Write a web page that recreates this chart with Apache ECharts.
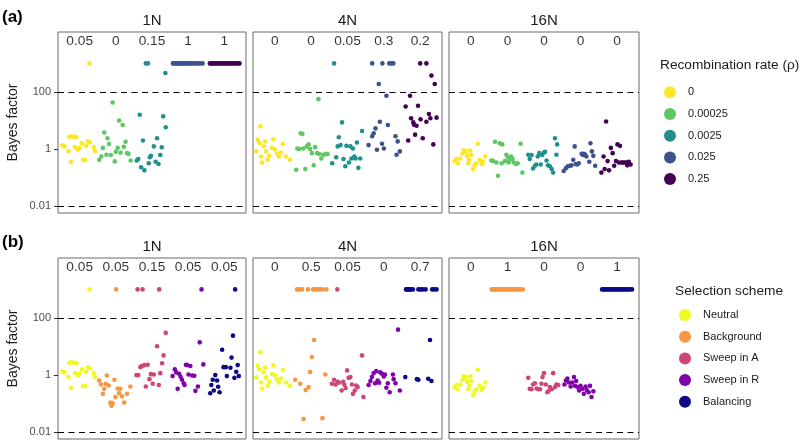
<!DOCTYPE html>
<html>
<head>
<meta charset="utf-8">
<script src="https://cdn.jsdelivr.net/npm/echarts@6/dist/echarts.min.js"></script>
<style>
html, body { margin: 0; background: #fff; }
#chart { width: 800px; height: 444px; }
</style>
</head>
<body>
<div id="chart"></div>
<script>
// facets and groups
const panelNames = ['1N', '4N', '16N'];
const rhoNames = ['0', '0.00025', '0.0025', '0.025', '0.25'];
const rhoColors = ['#FDE725', '#5DC863', '#21908C', '#3B528B', '#440154'];
const schemeNames = ['Neutral', 'Background', 'Sweep in A', 'Sweep in R', 'Balancing'];
const schemeColors = ['#F0F921', '#F89540', '#CC4778', '#7E03A8', '#0D0887'];

// proportion of replicates with BF > 100, printed on top of each group
const propA = [['0.05', '0', '0.15', '1', '1'], ['0', '0', '0.05', '0.3', '0.2'], ['0', '0', '0', '0', '0']];
const propB = [['0.05', '0.05', '0.15', '0.05', '0.05'], ['0', '0.5', '0.05', '0', '0.7'], ['0', '1', '0', '0', '1']];

// y-axis ticks
const yTicks = [0.01, 1, 100];
const thresholds = [0.01, 100];

// capped (infinite) Bayes factor
const C = 1000;

// points: [jitter offset within group, Bayes factor]
const neutral_1N = [[-0.48,1.35],[-0.42,1.24],[-0.31,0.85],[-0.24,0.35],[-0.29,2.7],[-0.22,2.8],[-0.15,2.7],[-0.09,2.6],[-0.13,1.17],[-0.05,0.97],[0.0,1.1],[0.06,1.6],[0.09,0.42],[0.15,0.41],[0.18,1.3],[0.23,1.86],[0.28,1.7],[0.39,1.17],[0.42,0.85],[0.27,C]];
const rho00025_1N = [[-0.46,0.42],[-0.4,0.55],[-0.36,1.1],[-0.32,3.8],[-0.26,0.63],[-0.23,2.4],[-0.19,1.5],[-0.14,0.62],[-0.09,43],[-0.03,0.37],[0.0,0.8],[0.05,1.1],[0.09,10],[0.13,0.75],[0.19,7],[0.22,1.2],[0.27,1.8],[0.31,0.72],[0.35,0.68],[0.41,0.4]];
const rho0025_1N = [[-0.17,C],[-0.11,C],[0.37,460],[-0.42,0.4],[-0.38,0.45],[-0.34,16],[-0.3,0.23],[-0.25,2],[-0.21,0.18],[-0.09,0.32],[-0.06,0.52],[-0.03,0.58],[0.05,1.24],[0.1,0.36],[0.14,2.4],[0.18,0.3],[0.23,0.62],[0.27,1.15],[0.31,14],[0.38,5.8]];
const rho025_1N = [[-0.42,C],[-0.39,C],[-0.35,C],[-0.31,C],[-0.27,C],[-0.23,C],[-0.2,C],[-0.16,C],[-0.12,C],[-0.08,C],[-0.04,C],[0.0,C],[0.04,C],[0.08,C],[0.12,C],[0.17,C],[0.22,C],[0.27,C],[0.33,C],[0.4,C]];
const rho25_1N = [[-0.4,C],[-0.36,C],[-0.33,C],[-0.29,C],[-0.25,C],[-0.2,C],[-0.16,C],[-0.11,C],[-0.07,C],[-0.03,C],[0.02,C],[0.06,C],[0.1,C],[0.14,C],[0.19,C],[0.23,C],[0.28,C],[0.32,C],[0.37,C],[0.42,C]];

const neutral_4N = [[-0.51,0.83],[-0.47,2.1],[-0.42,1.6],[-0.4,6.3],[-0.38,0.55],[-0.35,0.34],[-0.31,1.25],[-0.27,1.85],[-0.24,0.83],[-0.2,0.42],[-0.15,0.58],[-0.08,1.1],[-0.04,2.2],[0.0,0.98],[0.06,0.7],[0.11,0.55],[0.17,0.76],[0.22,1.5],[0.31,0.55],[0.42,0.42]];
const rho00025_4N = [[-0.41,0.19],[-0.38,1.05],[-0.33,1.0],[-0.29,3.6],[-0.24,3.4],[-0.22,1.05],[-0.16,0.2],[-0.12,1.24],[-0.07,1.46],[-0.03,1.0],[0.02,0.72],[0.07,0.27],[0.11,1.17],[0.16,0.72],[0.2,56],[0.23,0.67],[0.28,0.47],[0.34,0.63],[0.41,0.67],[0.45,0.67]];
const rho0025_4N = [[-0.37,C],[-0.42,0.32],[-0.31,0.52],[-0.27,1.24],[-0.24,2.6],[-0.19,1.38],[-0.15,8.6],[-0.11,0.45],[-0.06,0.25],[-0.03,1.3],[0.04,0.34],[0.08,1.24],[0.11,0.47],[0.15,1.05],[0.19,0.55],[0.22,0.47],[0.26,1.7],[0.3,0.22],[0.35,0.47],[0.4,4.3]];
const rho025_4N = [[-0.32,C],[-0.04,C],[0.15,C],[0.21,C],[0.26,C],[-0.14,190],[-0.42,1.38],[-0.32,2.8],[-0.28,3.6],[-0.23,5.3],[-0.19,0.95],[-0.11,9.1],[-0.05,1.54],[0.0,1.05],[0.07,74],[0.11,7],[0.32,2.8],[0.35,0.63],[0.38,1.86],[0.44,0.83]];
const rho25_4N = [[0.0,C],[0.17,C],[0.31,375],[0.4,190],[-0.4,31],[-0.33,2.0],[-0.28,74],[-0.25,12],[-0.19,8.6],[-0.17,7.1],[-0.14,3.2],[-0.1,6.6],[-0.06,33],[0.01,11],[0.07,2.4],[0.17,9.1],[0.24,17],[0.28,12],[0.36,1.46],[0.45,12.6]];

const neutral_16N = [[-0.45,0.38],[-0.4,0.45],[-0.36,0.32],[-0.29,0.47],[-0.23,0.69],[-0.2,0.9],[-0.14,0.83],[-0.11,0.58],[-0.07,0.32],[-0.05,0.42],[-0.02,0.9],[0.01,0.63],[0.06,0.2],[0.1,0.27],[0.15,0.32],[0.19,1.54],[0.24,0.42],[0.29,0.3],[0.33,0.36],[0.39,0.55]];
const rho00025_16N = [[-0.44,0.4],[-0.39,0.38],[-0.34,1.8],[-0.3,0.34],[-0.26,0.116],[-0.21,1.6],[-0.16,0.32],[-0.14,1.46],[-0.07,0.38],[-0.03,0.63],[0.01,0.52],[0.03,0.34],[0.06,0.42],[0.1,0.55],[0.14,0.45],[0.17,0.34],[0.23,0.3],[0.28,0.32],[0.36,1.54],[0.41,0.15]];
const rho0025_16N = [[-0.43,0.63],[-0.39,0.45],[-0.34,0.62],[-0.3,0.21],[-0.25,0.26],[-0.21,0.29],[-0.17,0.55],[-0.13,0.72],[-0.09,0.29],[-0.05,0.62],[0.0,0.76],[0.03,0.8],[0.07,0.4],[0.11,0.27],[0.16,0.25],[0.21,0.2],[0.25,0.15],[0.3,2.4],[0.34,0.63],[0.36,1.46]];
const rho025_16N = [[-0.46,0.17],[-0.4,0.215],[-0.35,0.25],[-0.29,0.26],[-0.25,0.27],[-0.2,0.42],[-0.16,1.24],[-0.13,0.3],[-0.09,0.29],[-0.05,0.32],[0.03,0.69],[0.07,0.62],[0.09,0.69],[0.12,0.65],[0.16,0.55],[0.24,0.36],[0.27,1.6],[0.31,0.83],[0.35,0.58],[0.4,0.26]];
const rho25_16N = [[-0.43,0.15],[-0.37,0.55],[-0.34,0.2],[-0.3,9.3],[-0.26,0.38],[-0.22,0.18],[-0.17,1.1],[-0.12,0.72],[-0.08,0.26],[-0.03,0.38],[0.01,1.46],[0.05,0.34],[0.08,1.3],[0.12,0.34],[0.16,0.34],[0.2,0.34],[0.25,0.34],[0.28,0.27],[0.32,0.36],[0.37,0.29]];

const bg_1N = [[0.01,C],[-0.46,0.65],[-0.41,0.47],[-0.36,0.22],[-0.32,0.33],[-0.28,0.5],[-0.25,0.97],[-0.2,0.43],[-0.15,0.11],[-0.12,0.084],[-0.09,0.104],[-0.04,0.69],[-0.01,0.17],[0.05,0.34],[0.09,0.23],[0.12,0.33],[0.17,0.18],[0.23,0.11],[0.31,0.22],[0.4,0.4]];
const sweepA_1N = [[-0.4,C],[-0.26,C],[0.2,C],[-0.43,1.0],[-0.38,1.0],[-0.32,1.9],[-0.28,2.07],[-0.21,2.24],[-0.17,0.4],[-0.12,2.3],[-0.07,0.72],[-0.03,1.08],[0.02,0.5],[0.05,1.05],[0.14,10.2],[0.19,0.45],[0.23,1.17],[0.28,2.6],[0.32,4.9],[0.38,30]];
const sweepR_1N = [[0.37,C],[-0.43,0.92],[-0.37,1.6],[-0.33,1.24],[-0.29,0.33],[-0.25,1.11],[-0.21,0.87],[-0.17,0.69],[-0.12,0.52],[-0.1,0.45],[-0.06,2.3],[-0.03,2.24],[0.01,1.05],[0.06,2.07],[0.11,0.97],[0.17,0.95],[0.2,0.28],[0.27,0.4],[0.32,14],[0.42,2.37]];
const bal_1N = [[0.3,C],[-0.39,0.23],[-0.36,0.45],[-0.32,0.69],[-0.29,0.29],[-0.25,1.0],[-0.2,0.65],[-0.17,0.39],[-0.13,0.25],[-0.06,7.7],[-0.02,1.9],[0.04,1.9],[0.07,0.92],[0.17,1.8],[0.2,4.1],[0.24,24],[0.28,0.8],[0.33,1.3],[0.37,2.24],[0.4,0.92]];

const bg_4N = [[-0.39,C],[-0.33,C],[-0.25,C],[-0.09,C],[0.05,C],[0.11,C],[0.18,C],[0.24,C],[0.31,C],[0.42,C],[-0.44,0.69],[-0.3,0.5],[-0.21,0.029],[-0.15,0.3],[-0.07,0.38],[-0.03,1.27],[0.02,4.3],[0.08,17],[0.31,0.031],[0.39,1.05]];
const sweepA_4N = [[-0.28,C],[-0.43,0.5],[-0.37,0.69],[-0.33,0.47],[-0.27,0.58],[-0.24,0.54],[-0.16,0.29],[-0.12,0.58],[-0.09,0.47],[-0.05,0.35],[-0.01,1.46],[0.03,0.8],[0.08,0.85],[0.12,0.47],[0.15,0.22],[0.2,0.29],[0.24,0.43],[0.28,0.38],[0.4,4.9],[0.44,0.17]];
const sweepR_4N = [[-0.42,0.45],[-0.37,0.62],[-0.33,0.85],[-0.28,1.17],[-0.24,0.52],[-0.21,1.38],[-0.17,0.65],[-0.13,0.54],[-0.1,1.24],[-0.05,1.11],[0.0,0.9],[0.03,1.05],[0.07,0.36],[0.11,0.52],[0.16,0.25],[0.25,1.05],[0.27,0.72],[0.32,0.52],[0.39,39],[0.44,0.29]];
const bal_4N = [[-0.39,C],[-0.37,C],[-0.34,C],[-0.31,C],[-0.28,C],[-0.25,C],[-0.2,C],[-0.05,C],[0.01,C],[0.07,C],[0.15,C],[0.33,C],[0.38,C],[0.45,C],[-0.41,0.85],[-0.09,0.72],[-0.05,0.69],[0.22,0.74],[0.27,17],[0.31,0.62]];

const bg_16N = [[-0.43,C],[-0.39,C],[-0.34,C],[-0.3,C],[-0.26,C],[-0.21,C],[-0.17,C],[-0.13,C],[-0.08,C],[-0.04,C],[0.0,C],[0.05,C],[0.09,C],[0.13,C],[0.17,C],[0.22,C],[0.26,C],[0.3,C],[0.35,C],[0.42,C]];
const sweepA_16N = [[-0.43,0.8],[-0.39,0.33],[-0.34,0.32],[-0.3,0.47],[-0.25,0.52],[-0.2,0.34],[-0.16,0.32],[-0.11,0.32],[-0.07,0.5],[-0.04,0.85],[0.0,1.17],[0.05,0.47],[0.09,0.25],[0.12,0.27],[0.16,0.38],[0.21,0.32],[0.25,1.17],[0.3,0.38],[0.34,0.47],[0.39,0.45]];
const sweepR_16N = [[-0.44,0.47],[-0.4,0.65],[-0.36,0.76],[-0.32,0.55],[-0.27,0.4],[-0.23,0.55],[-0.18,0.85],[-0.15,0.42],[-0.12,0.62],[-0.08,0.38],[-0.04,0.29],[0.0,0.42],[0.05,0.33],[0.09,0.22],[0.14,0.4],[0.17,0.3],[0.22,0.25],[0.26,0.42],[0.3,0.17],[0.35,0.27]];
const bal_16N = [[-0.41,C],[-0.37,C],[-0.33,C],[-0.29,C],[-0.25,C],[-0.21,C],[-0.16,C],[-0.12,C],[-0.08,C],[-0.04,C],[0.0,C],[0.04,C],[0.09,C],[0.13,C],[0.17,C],[0.22,C],[0.26,C],[0.3,C],[0.35,C],[0.41,C]];

const rowA = [
    [neutral_1N, rho00025_1N, rho0025_1N, rho025_1N, rho25_1N],
    [neutral_4N, rho00025_4N, rho0025_4N, rho025_4N, rho25_4N],
    [neutral_16N, rho00025_16N, rho0025_16N, rho025_16N, rho25_16N]
];
const rowB = [
    [neutral_1N, bg_1N, sweepA_1N, sweepR_1N, bal_1N],
    [neutral_4N, bg_4N, sweepA_4N, sweepR_4N, bal_4N],
    [neutral_16N, bg_16N, sweepA_16N, sweepR_16N, bal_16N]
];

// layout
const panelLeft = [58, 253, 449];
const panelWidth = [188, 189, 190];
const rowTop = [32, 258];
const panelHeight = 181;
const FONT = 'Liberation Sans, Arial, sans-serif';
const LABEL_Y = 6000;

const chart = echarts.init(document.getElementById('chart'), null, { renderer: 'canvas' });

const grids = [], xAxes = [], yAxes = [], series = [];
const rows = [
    { data: rowA, names: rhoNames, colors: rhoColors, props: propA },
    { data: rowB, names: schemeNames, colors: schemeColors, props: propB }
];

rows.forEach(function (row, r) {
    panelNames.forEach(function (pn, c) {
        const idx = grids.length;
        grids.push({
            left: panelLeft[c], top: rowTop[r], width: panelWidth[c], height: panelHeight,
            show: true, borderColor: '#6b6b6b', borderWidth: 1, backgroundColor: '#fff'
        });
        xAxes.push({ type: 'value', gridIndex: idx, min: 0.4, max: 5.6, show: false });
        yAxes.push({
            type: 'log', logBase: 100, gridIndex: idx, min: 0.00578, max: 12590,
            axisLine: { show: false },
            splitLine: { show: false },
            axisTick: { show: c === 0, length: 4, lineStyle: { color: '#333' }, customValues: yTicks },
            axisLabel: {
                show: c === 0, customValues: yTicks, color: '#4d4d4d', fontSize: 11,
                fontFamily: FONT, margin: 7, formatter: function (v) { return String(v); }
            }
        });
        row.data[c].forEach(function (pts, g) {
            series.push({
                type: 'scatter', name: row.names[g], xAxisIndex: idx, yAxisIndex: idx,
                symbolSize: 4.6, silent: true, z: 3,
                itemStyle: { color: row.colors[g], opacity: 1 },
                data: pts.map(function (p) { return [g + 1 + p[0], p[1]]; })
            });
        });
        // proportion labels + threshold lines
        series.push({
            type: 'scatter', name: 'lab' + idx, xAxisIndex: idx, yAxisIndex: idx,
            symbolSize: 0, silent: true, z: 4,
            label: {
                show: true, position: 'inside', color: '#000', fontSize: 13.7, fontFamily: FONT,
                formatter: function (p) { return p.value[2]; }
            },
            data: row.props[c].map(function (t, g) { return [g + 1, LABEL_Y, t]; }),
            markLine: {
                silent: true, symbol: 'none', animation: false,
                label: { show: false },
                lineStyle: { color: '#000', type: [6, 4.5], width: 1 },
                data: thresholds.map(function (v) { return { yAxis: v }; })
            }
        });
    });
});

const graphics = [];
// strip labels
[20.7, 246.7].forEach(function (y) {
    panelNames.forEach(function (pn, c) {
        graphics.push({ type: 'text', x: panelLeft[c] + panelWidth[c] / 2, y: y,
            style: { text: pn, font: '15px ' + FONT, fill: '#1a1a1a', textAlign: 'center', textVerticalAlign: 'middle' } });
    });
});
// tags
graphics.push({ type: 'text', x: 2, y: 17.5, style: { text: '(a)', font: 'bold 17px ' + FONT, fill: '#000', textVerticalAlign: 'middle' } });
graphics.push({ type: 'text', x: 2, y: 242, style: { text: '(b)', font: 'bold 17px ' + FONT, fill: '#000', textVerticalAlign: 'middle' } });
// y titles
[122.5, 348.5].forEach(function (y) {
    graphics.push({ type: 'text', x: 13, y: y, rotation: Math.PI / 2,
        style: { text: 'Bayes factor', font: '14px ' + FONT, fill: '#1a1a1a', textAlign: 'center', textVerticalAlign: 'middle' } });
});
// legend titles
graphics.push({ type: 'text', x: 660, y: 65, style: { text: 'Recombination rate (ρ)', font: '13.7px ' + FONT, fill: '#1a1a1a', textVerticalAlign: 'middle' } });
graphics.push({ type: 'text', x: 675, y: 291.7, style: { text: 'Selection scheme', font: '13.7px ' + FONT, fill: '#1a1a1a', textVerticalAlign: 'middle' } });

const legendBase = {
    orient: 'vertical', icon: 'circle', itemWidth: 12, itemHeight: 12, itemGap: 9.7,
    selectedMode: false, padding: 0,
    textStyle: { fontSize: 11, lineHeight: 12, color: '#1a1a1a', fontFamily: FONT, padding: [0, 0, 0, 7] }
};

chart.setOption({
    animation: false,
    backgroundColor: '#fff',
    grid: grids,
    xAxis: xAxes,
    yAxis: yAxes,
    legend: [
        Object.assign({}, legendBase, { data: rhoNames, left: 664, top: 86.3 }),
        Object.assign({}, legendBase, { data: schemeNames, left: 679, top: 309 })
    ],
    graphic: graphics,
    series: series
});
</script>
</body>
</html>
